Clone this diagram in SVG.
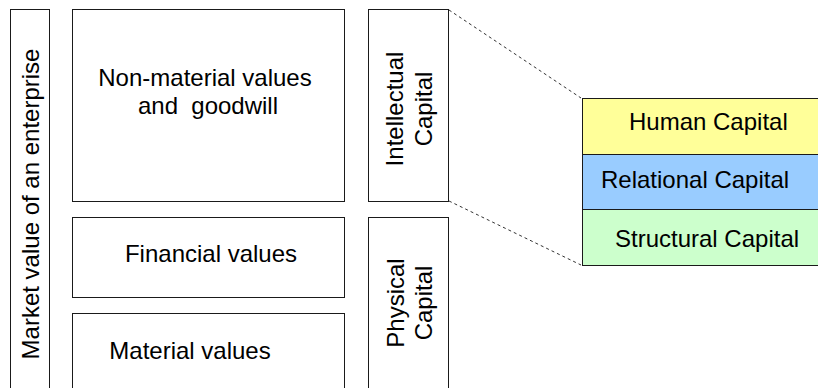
<svg xmlns="http://www.w3.org/2000/svg" width="818" height="388" viewBox="0 0 818 388">
  <style>
    .box { fill: #ffffff; stroke: #1a1a1a; stroke-width: 1; }
    .lbl { font-family: "Liberation Sans", Arial, sans-serif; font-size: 24px; fill: #000000; }
    .mid { text-anchor: middle; }
    .link { stroke: #333333; stroke-width: 1; stroke-dasharray: 3 3; fill: none; }
  </style>
  <rect x="0" y="0" width="818" height="388" fill="#ffffff"/>

  <g id="market-value">
    <rect class="box" x="10.5" y="9.5" width="39" height="400"/>
    <text class="lbl mid" transform="translate(39,204) rotate(-90)">Market value of an enterprise</text>
  </g>

  <g id="non-material">
    <rect class="box" x="72.5" y="9.5" width="272" height="192"/>
    <text class="lbl mid" x="205" y="86">Non-material values</text>
    <text class="lbl mid" x="208" y="114" xml:space="preserve">and  goodwill</text>
  </g>

  <g id="financial">
    <rect class="box" x="72.5" y="217.5" width="272" height="80"/>
    <text class="lbl mid" x="211" y="262">Financial values</text>
  </g>

  <g id="material">
    <rect class="box" x="72.5" y="313.5" width="272" height="100"/>
    <text class="lbl mid" x="190" y="359">Material values</text>
  </g>

  <g id="intellectual">
    <rect class="box" x="368.5" y="9.5" width="80" height="192"/>
    <text class="lbl mid" transform="translate(403,109) rotate(-90)">Intellectual</text>
    <text class="lbl mid" transform="translate(432,109) rotate(-90)">Capital</text>
  </g>

  <g id="physical">
    <rect class="box" x="368.5" y="217.5" width="80" height="200"/>
    <text class="lbl mid" transform="translate(404,303) rotate(-90)">Physical</text>
    <text class="lbl mid" transform="translate(432,303) rotate(-90)">Capital</text>
  </g>

  <g id="connectors">
    <line class="link" x1="449" y1="10" x2="581" y2="98"/>
    <line class="link" x1="449" y1="201" x2="581" y2="265"/>
  </g>

  <g id="human">
    <rect class="box" x="582.5" y="98.5" width="250" height="56" style="fill:#ffff99"/>
    <text class="lbl" x="629" y="130">Human Capital</text>
  </g>

  <g id="relational">
    <rect class="box" x="582.5" y="154.5" width="250" height="55" style="fill:#99ccff"/>
    <text class="lbl" x="601" y="188">Relational Capital</text>
  </g>

  <g id="structural">
    <rect class="box" x="582.5" y="209.5" width="250" height="56" style="fill:#ccffcc"/>
    <text class="lbl" x="615" y="247">Structural Capital</text>
  </g>
</svg>
